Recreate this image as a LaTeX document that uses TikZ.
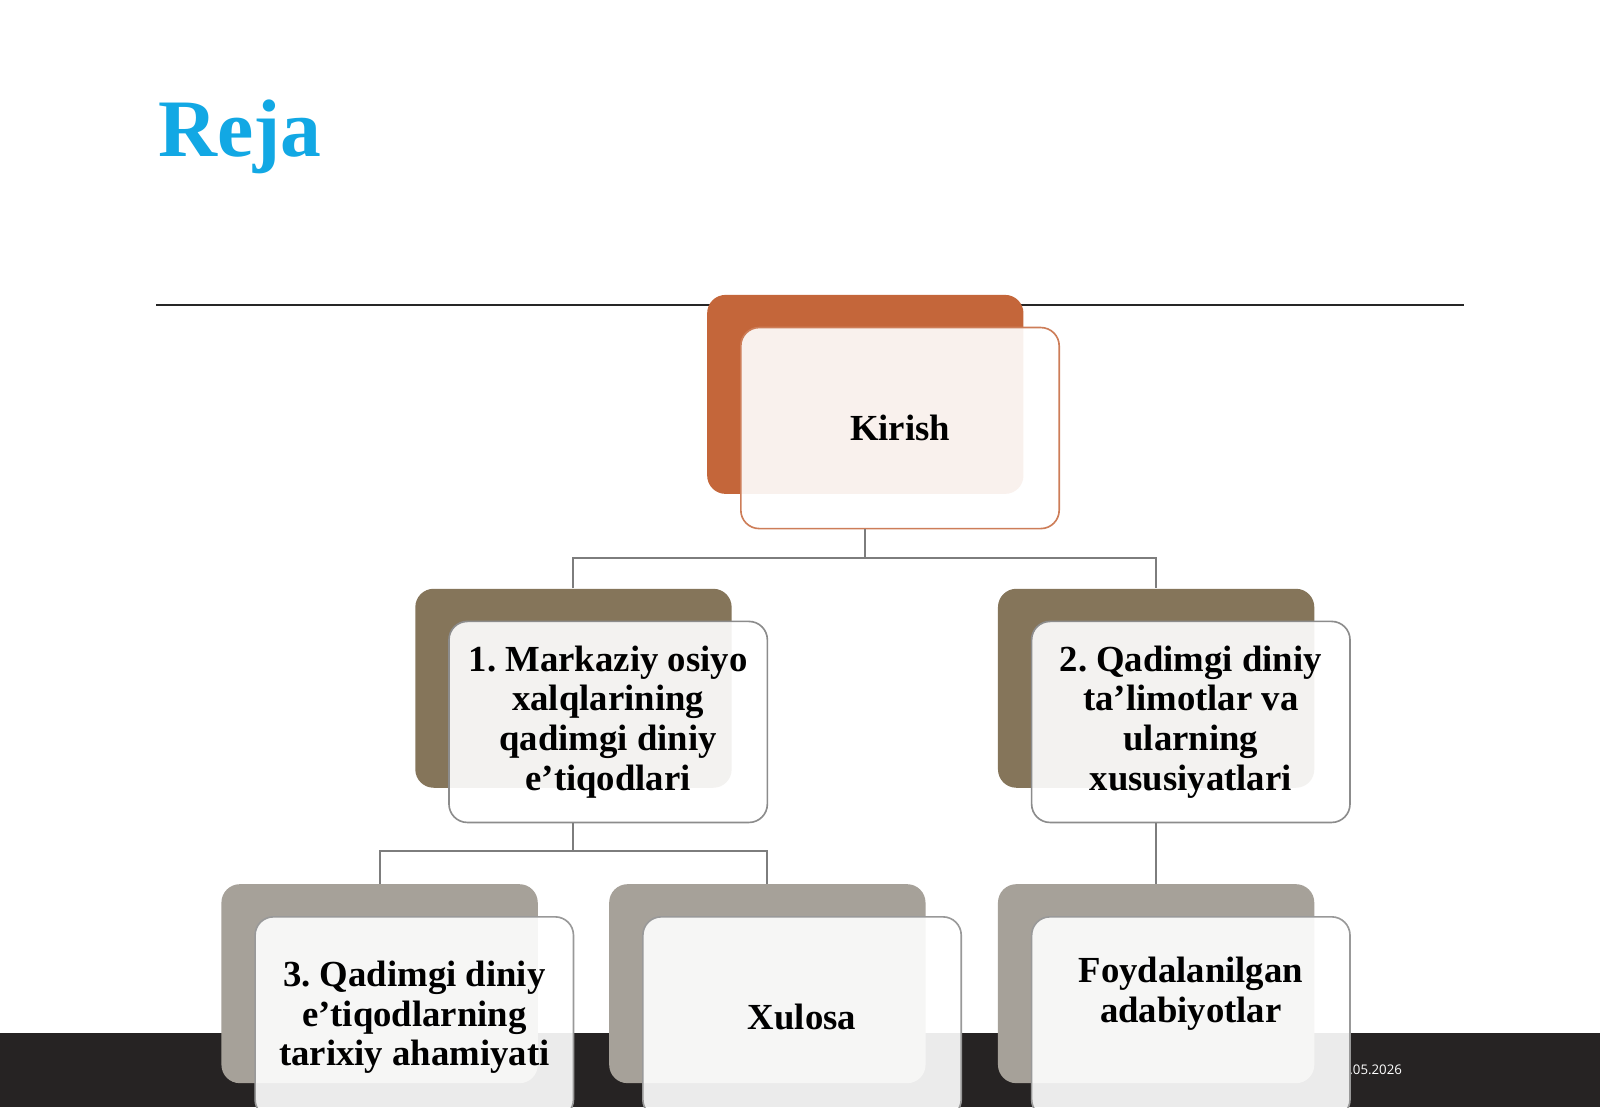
\documentclass[tikz,border=0pt]{standalone}
\usepackage{fontspec}
\setmainfont{Liberation Serif}
\newfontfamily\datefont{Open Sans}
\frenchspacing
\definecolor{rejablue}{RGB}{18,168,228}
\definecolor{kirishc}{RGB}{196,102,58}
\definecolor{bolimc}{RGB}{133,117,90}
\definecolor{qismc}{RGB}{166,161,153}
\definecolor{barc}{RGB}{38,35,35}
\definecolor{connc}{RGB}{125,125,125}
\tikzset{
  backbox/.style={rectangle, rounded corners=9pt, minimum width=155pt, minimum height=97.5pt, inner sep=0pt},
  frontbox/.style={rectangle, rounded corners=9pt, minimum width=156pt, minimum height=98.5pt, inner sep=0pt,
    fill=white, fill opacity=0.91, text opacity=1, line width=0.8pt, align=center,
    font=\bfseries\fontsize{18}{19.5}\selectfont},
  conn/.style={draw=connc, line width=1pt},
}

\begin{document}
\begin{tikzpicture}[x=0.5pt, y=-0.5pt] % reja
\useasboundingbox (0,0) rectangle (1568,1085);
\fill[white] (0,0) rectangle (1568,1085);

\node[anchor=base west, inner sep=0pt, text=rejablue, font=\bfseries\fontsize{40}{48}\selectfont] (title) at (155,153) {Reja};
\coordinate (l1) at (153,299);
\coordinate (l2) at (1435,299);
\draw[black!85, line width=1pt] (l1) -- (l2);

\fill[barc] (0,1012) rectangle (1568,1085);
\node[anchor=west, inner sep=0pt, text=white, font=\datefont\fontsize{6.5}{8}\selectfont] (sana) at (1322,1048) {.05.2026};

\foreach \nm/\x/\y/\c in {kB/848/386.5/kirishc, aB/562/674.5/bolimc, bB/1133/674.5/bolimc,
                          cB/372/964/qismc, dB/752/964/qismc, eB/1133/964/qismc}
{
    \node[backbox, fill=\c] (\nm) at (\x,\y) {};
}

\node[frontbox, draw=kirishc!85!white] (k) at ([shift={(34,33)}]kB) {Kirish};
\node[frontbox, draw=black!45] (a) at ([shift={(34,33)}]aB) {1. Markaziy osiyo\\xalqlarining\\qadimgi diniy\\e’tiqodlari};
\node[frontbox, draw=black!45] (b) at ([shift={(34,33)}]bB) {2. Qadimgi diniy\\ta’limotlar va\\ularning\\xususiyatlari};
\node[frontbox, draw=black!40] (c) at ([shift={(34,33)}]cB) {3. Qadimgi diniy\\e’tiqodlarning\\tarixiy ahamiyati};
\node[frontbox, draw=black!40] (d) at ([shift={(34,33)}]dB) {Xulosa};
\node[frontbox, draw=black!40] (e) at ([shift={(34,33)}]eB) {};
\node[align=center, inner sep=0pt, font=\bfseries\fontsize{18}{19.5}\selectfont] (eT) at ([shift={(0,-23)}]e.center) {Foydalanilgan\\adabiyotlar};

\coordinate (j1) at (848,547);
\coordinate (j2) at (562,834);
\draw[conn] (kB |- k.south) -- (j1);
\draw[conn] (aB.north) |- (j1) -| (bB.north);
\draw[conn] (aB |- a.south) -- (j2);
\draw[conn] (cB.north) |- (j2) -| (dB.north);
\draw[conn] (bB |- b.south) -- (eB.north);
\end{tikzpicture}
\end{document}
